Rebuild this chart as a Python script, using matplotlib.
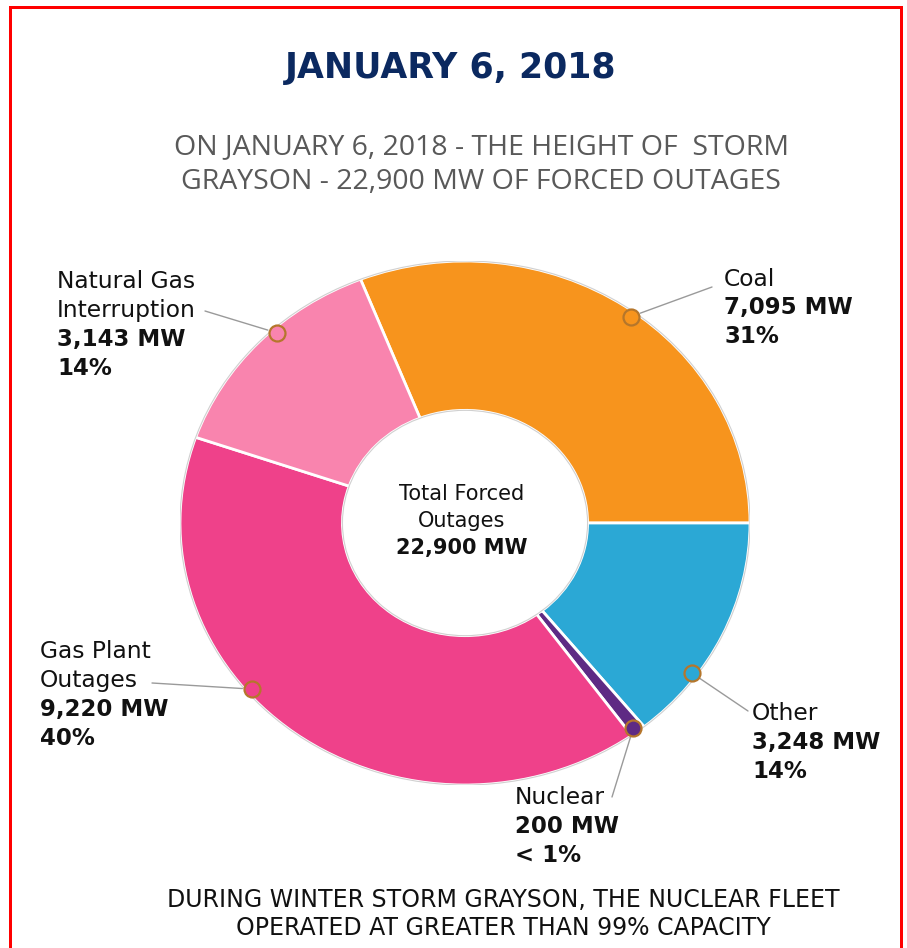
import matplotlib
matplotlib.use("Agg")
import matplotlib.pyplot as plt
from matplotlib import font_manager
from matplotlib.patches import Rectangle, Ellipse
import numpy as np

# ---- data ----
categories = ["Coal", "Other", "Nuclear", "Gas Plant\nOutages", "Natural Gas\nInterruption"]
values_mw = [7095, 3248, 200, 9220, 3143]
mw_labels = ["7,095 MW", "3,248 MW", "200 MW", "9,220 MW", "3,143 MW"]
pct_labels = ["31%", "14%", "< 1%", "40%", "14%"]
colors = ["#F7941D", "#2BA8D5", "#5E2A84", "#EF418A", "#F984AE"]
marker_frac = [0.52, 0.70, 0.6, 0.59, 0.58]   # where along each slice the callout dot sits
total_label = "22,900 MW"

W, H = 907, 948
fig = plt.figure(figsize=(W / 100, H / 100), dpi=100)
fig.patch.set_facecolor("white")

names = {f.name for f in font_manager.fontManager.ttflist}
narrow = "Liberation Sans Narrow" if "Liberation Sans Narrow" in names else "DejaVu Sans"
subfont = "Open Sans" if "Open Sans" in names else "DejaVu Sans"
bottom_size = 15 if narrow == "Liberation Sans Narrow" else 17

def ftext(x, y, s, **kw):
    return fig.text(x / W, 1 - y / H, s, **kw)

# red frame (no bottom edge)
for (x0, y0, x1, y1) in [(9, 6, 903, 9), (9, 6, 12, 948), (900, 6, 903, 948)]:
    fig.add_artist(Rectangle((x0 / W, 1 - y1 / H), (x1 - x0) / W, (y1 - y0) / H,
                             transform=fig.transFigure, color="#FF0000", lw=0))

# ---- donut ----
cx, cy, rx, ry = 465, 523, 285, 262
ax = fig.add_axes([(cx - rx) / W, 1 - (cy + ry) / H, 2 * rx / W, 2 * ry / H])
total = sum(values_mw)
start = 360 * values_mw[0] / total
wedges, _ = ax.pie(values_mw, colors=colors, startangle=start, counterclock=False,
                   radius=1, wedgeprops=dict(width=0.57, edgecolor="white", linewidth=2))
ax.set_aspect("auto")
ax.set_xlim(-1, 1)
ax.set_ylim(-1, 1)
ax.axis("off")
ax.add_patch(Ellipse((0, 0), 2.0, 2.0, fill=False, ec="#d0d0d0", lw=0.8))
ax.add_patch(Ellipse((0, 0), 0.86, 0.86, fill=False, ec="#d0d0d0", lw=0.8))

# callout dots and leader lines
line_ends = [(712, 287), (748, 711), (612, 797), (152, 683), (205, 311)]
ang = start
for i, v in enumerate(values_mw):
    span = 360 * v / total
    th = np.deg2rad(ang - marker_frac[i] * span)
    r = 0.98
    mx, my = r * np.cos(th), r * np.sin(th)
    ex, ey = line_ends[i]
    ax.annotate("", xy=(mx, my), xycoords="data", xytext=(ex, H - ey),
                textcoords="figure pixels",
                arrowprops=dict(arrowstyle="-", color="#9a9a9a", lw=1, shrinkA=0, shrinkB=7))
    ax.plot([mx], [my], "o", ms=11.5, mfc=colors[i], mec="#B5762B", mew=1.6, zorder=5)
    ang -= span

# ---- labels ----
label_pos = [(724, 279), (752, 714), (515, 798), (40, 652), (57, 282)]
lh = 28.8
for i in range(len(values_mw)):
    x, y = label_pos[i]
    lines = categories[i].split("\n")
    for j, ln in enumerate(lines):
        ftext(x, y + j * lh, ln, fontsize=16.8, color="#111111", ha="left", va="center")
    n = len(lines)
    ftext(x, y + n * lh, mw_labels[i], fontsize=16.5, fontweight="bold", color="#111111",
          ha="left", va="center")
    ftext(x, y + (n + 1) * lh, pct_labels[i], fontsize=16.5, fontweight="bold",
          color="#111111", ha="left", va="center")

# centre text
ftext(462, 494, "Total Forced", fontsize=15, color="#111111", ha="center", va="center")
ftext(462, 521, "Outages", fontsize=15, color="#111111", ha="center", va="center")
ftext(462, 548, total_label, fontsize=15, fontweight="bold", color="#111111",
      ha="center", va="center")

# ---- titles ----
ftext(451, 68, "JANUARY 6, 2018", fontsize=25, fontweight="bold", color="#0B2960",
      ha="center", va="center", family=narrow)
ftext(481, 147, "ON JANUARY 6, 2018 - THE HEIGHT OF  STORM", fontsize=20.5,
      color="#595959", ha="center", va="center", family=subfont)
ftext(481, 182, "GRAYSON - 22,900 MW OF FORCED OUTAGES", fontsize=20.5,
      color="#595959", ha="center", va="center", family=subfont)

ftext(503, 900, "DURING WINTER STORM GRAYSON, THE NUCLEAR FLEET", fontsize=bottom_size,
      color="#111111", ha="center", va="center", family=narrow)
ftext(503, 928, "OPERATED AT GREATER THAN 99% CAPACITY", fontsize=bottom_size,
      color="#111111", ha="center", va="center", family=narrow)

fig.savefig("out.png", dpi=100, facecolor="white")
